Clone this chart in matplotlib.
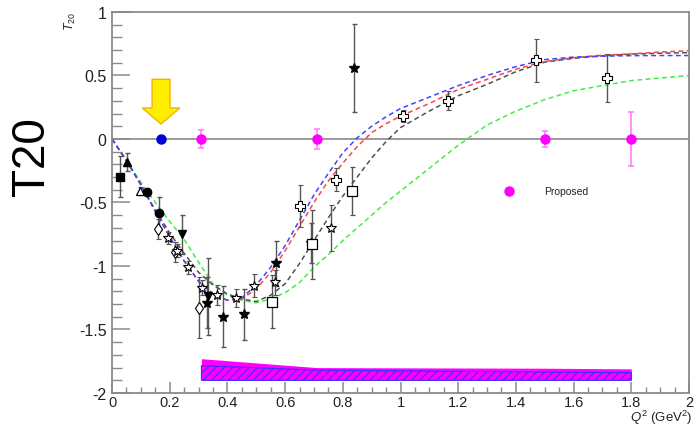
import numpy as np
import matplotlib
matplotlib.use("Agg")
import matplotlib.pyplot as plt
from matplotlib.patches import FancyArrow
from matplotlib.ticker import MultipleLocator, FixedLocator, FixedFormatter

plt.rcParams['font.family'] = ['Liberation Sans', 'DejaVu Sans']
plt.rcParams['axes.unicode_minus'] = False
plt.rcParams['mathtext.fontset'] = 'custom'
plt.rcParams['mathtext.rm'] = 'Liberation Sans'
plt.rcParams['mathtext.it'] = 'Liberation Sans:italic'
plt.rcParams['hatch.linewidth'] = 0.8

# ---- data -------------------------------------------------------------
# theory curves (read at Q2 grid)
q2_grid = [0.0, 0.05, 0.1, 0.15, 0.2, 0.25, 0.3, 0.35, 0.4, 0.45, 0.5, 0.55,
           0.6, 0.65, 0.7, 0.75, 0.8, 0.85, 0.9, 0.95, 1.0, 1.1, 1.2, 1.3,
           1.4, 1.5, 1.6, 1.7, 1.8, 1.9, 2.0]
t20_blue = [0.0, -0.17, -0.36, -0.57, -0.77, -0.96, -1.12, -1.22, -1.27, -1.25,
            -1.15, -1.01, -0.84, -0.64, -0.44, -0.27, -0.11, 0.01, 0.10, 0.175,
            0.24, 0.33, 0.42, 0.50, 0.57, 0.625, 0.645, 0.652, 0.656, 0.657, 0.657]
t20_red = [0.0, -0.17, -0.36, -0.57, -0.77, -0.96, -1.12, -1.22, -1.27, -1.26,
           -1.18, -1.05, -0.88, -0.69, -0.50, -0.33, -0.19, -0.06, 0.05, 0.12,
           0.18, 0.28, 0.39, 0.47, 0.55, 0.61, 0.64, 0.66, 0.67, 0.685, 0.695]
t20_black = [0.0, -0.17, -0.36, -0.56, -0.74, -0.90, -1.05, -1.15, -1.22, -1.26,
             -1.28, -1.23, -1.14, -0.98, -0.80, -0.62, -0.45, -0.30, -0.15, -0.02,
             0.09, 0.22, 0.34, 0.43, 0.53, 0.605, 0.635, 0.655, 0.668, 0.675, 0.68]
t20_green = [0.0, -0.17, -0.34, -0.50, -0.65, -0.79, -0.97, -1.14, -1.23, -1.27,
             -1.29, -1.26, -1.21, -1.13, -1.01, -0.91, -0.80, -0.70, -0.60, -0.50,
             -0.41, -0.23, -0.05, 0.11, 0.22, 0.31, 0.38, 0.42, 0.46, 0.48, 0.50]

# world data, grouped by marker
fsq_x, fsq_y, fsq_e = [0.028], [-0.297], [0.16]
ftri_x, ftri_y, ftri_e = [0.051], [-0.18], [0.07]
otri_x, otri_y, otri_e = [0.097], [-0.41], [0.03]
fcir_x, fcir_y, fcir_e = [0.12, 0.162], [-0.42, -0.585], [0.03, 0.13]
odia_x, odia_y, odia_e = [0.16, 0.217, 0.303], [-0.71, -0.89, -1.33], [0.08, 0.08, 0.24]
fdown_x, fdown_y, fdown_e = [0.243, 0.334], [-0.75, -1.24], [0.155, 0.30]
ostar_x = [0.195, 0.226, 0.264, 0.311, 0.365, 0.429, 0.492, 0.565, 0.758]
ostar_y = [-0.78, -0.88, -1.01, -1.17, -1.23, -1.25, -1.155, -1.13, -0.70]
ostar_e = [0.05, 0.05, 0.05, 0.06, 0.08, 0.07, 0.09, 0.10, 0.18]
fstar_x = [0.328, 0.386, 0.458, 0.567, 0.689, 0.839]
fstar_y = [-1.29, -1.40, -1.38, -0.98, -0.82, 0.557]
fstar_e = [0.20, 0.24, 0.20, 0.18, 0.155, 0.345]
osq_x, osq_y, osq_e = [0.556, 0.694, 0.831], [-1.28, -0.83, -0.41], [0.21, 0.27, 0.19]
ocross_x = [0.652, 0.775, 1.01, 1.166, 1.47, 1.715]
ocross_y = [-0.53, -0.32, 0.18, 0.30, 0.62, 0.48]
ocross_e = [0.165, 0.09, 0.05, 0.075, 0.17, 0.19]

# proposed measurement
prop_x = [0.31, 0.71, 1.5, 1.8]
prop_y = [0.0, 0.0, 0.0, 0.0]
prop_e = [0.07, 0.08, 0.06, 0.21]
blue_x, blue_y = [0.17], [0.0]

# systematic band
band_x = [0.31, 0.71, 1.5, 1.8]
band_top = [-1.73, -1.80, -1.805, -1.81]
hatch_top = [-1.785, -1.82, -1.835, -1.84]
band_base = -1.90

# arrow marking the blue point
arrow_x, arrow_top, arrow_tip = 0.17, 0.47, 0.118

xtick_vals = [0, 0.2, 0.4, 0.6, 0.8, 1, 1.2, 1.4, 1.6, 1.8, 2]
xtick_labels = ["0", "0.2", "0.4", "0.6", "0.8", "1", "1.2", "1.4", "1.6", "1.8", "2"]
ytick_vals = [-2, -1.5, -1, -0.5, 0, 0.5, 1]
ytick_labels = ["-2", "-1.5", "-1", "-0.5", "0", "0.5", "1"]

# ---- figure ----------------------------------------------------------
fig = plt.figure(figsize=(6.94, 4.27), dpi=100)
ax = fig.add_axes([0.1614, 0.0773, 0.8314, 0.8923])
ax.set_xlim(0, 2)
ax.set_ylim(-2, 1)

frame_col = '#8a8a8a'
ax.axhline(0, color=frame_col, lw=1.2, zorder=1)

dash = (0, (3.2, 2.2))
ax.plot(q2_grid, t20_green, color='#44ee44', ls=dash, lw=1.1, zorder=2)
ax.plot(q2_grid, t20_black, color='#505050', ls=dash, lw=1.1, zorder=2)
ax.plot(q2_grid, t20_red, color='#ff4444', ls=dash, lw=1.1, zorder=2)
ax.plot(q2_grid, t20_blue, color='#4444ff', ls=dash, lw=1.1, zorder=2)

# band
ax.fill_between(band_x, band_base, band_top, color='#ff00ff', lw=0, zorder=2)
ax.fill_between(band_x, band_base, hatch_top, facecolor='none', edgecolor='#3a2cff',
                hatch='////', lw=0.8, zorder=3)

ekw = dict(ls='none', ecolor='#555555', elinewidth=1.0, capsize=1.8, capthick=1.0,
           zorder=4)
ax.errorbar(fsq_x, fsq_y, yerr=fsq_e, marker='s', ms=6, mfc='black', mec='black', **ekw)
ax.errorbar(ftri_x, ftri_y, yerr=ftri_e, marker='^', ms=6, mfc='black', mec='black', **ekw)
ax.errorbar(otri_x, otri_y, yerr=otri_e, marker='^', ms=6, mfc='white', mec='black', mew=0.9, **ekw)
ax.errorbar(fcir_x, fcir_y, yerr=fcir_e, marker='o', ms=6, mfc='black', mec='black', **ekw)
ax.errorbar(odia_x, odia_y, yerr=odia_e, marker='d', ms=6, mfc='white', mec='black', mew=0.8, **ekw)
ax.errorbar(fdown_x, fdown_y, yerr=fdown_e, marker='v', ms=6, mfc='black', mec='black', **ekw)
ax.errorbar(ostar_x, ostar_y, yerr=ostar_e, marker='*', ms=7.5, mfc='white', mec='black', mew=0.8, **ekw)
ax.errorbar(fstar_x, fstar_y, yerr=fstar_e, marker='*', ms=7, mfc='black', mec='black', **ekw)
ax.errorbar(osq_x, osq_y, yerr=osq_e, marker='s', ms=7, mfc='white', mec='black', mew=0.9, **ekw)
ax.errorbar(ocross_x, ocross_y, yerr=ocross_e, marker='P', ms=7, mfc='white', mec='black', mew=0.8, **ekw)

ax.errorbar(prop_x, prop_y, yerr=prop_e, ls='none', marker='o', ms=6.5, mfc='#ff00ff',
            mec='#ff00ff', ecolor='#ff77ff', elinewidth=1.1, capsize=2, capthick=1.1, zorder=5)
ax.plot(blue_x, blue_y, 'o', ms=6.5, color='#0000dd', zorder=5)

ax.add_patch(FancyArrow(arrow_x, arrow_top, 0, arrow_tip - arrow_top, width=0.062,
                        head_width=0.13, head_length=0.126, length_includes_head=True,
                        facecolor='#ffee00', edgecolor='#f0b400', lw=1.0, zorder=6))

# legend entry
ax.plot([1.376], [-0.41], 'o', ms=6.5, color='#ff00ff', zorder=5)
ax.text(1.497, -0.41, "Proposed", fontsize=7.5, va='center', ha='left', color='#222222')

# axes styling
for s in ax.spines.values():
    s.set_color(frame_col)
    s.set_linewidth(1.3)
ax.xaxis.set_major_locator(FixedLocator(xtick_vals))
ax.xaxis.set_major_formatter(FixedFormatter(xtick_labels))
ax.xaxis.set_minor_locator(MultipleLocator(0.05))
ax.yaxis.set_major_locator(FixedLocator(ytick_vals))
ax.yaxis.set_major_formatter(FixedFormatter(ytick_labels))
ax.yaxis.set_minor_locator(MultipleLocator(0.1))
ax.tick_params(axis='both', which='both', direction='in', color=frame_col,
               labelsize=11.5, labelcolor='#222222')
ax.tick_params(axis='x', which='major', length=8, width=1.1, pad=1.2, labelsize=10.5)
ax.tick_params(axis='x', which='minor', length=4.3, width=1.0)
ax.tick_params(axis='y', which='major', length=13, width=1.1, pad=4)
ax.tick_params(axis='y', which='minor', length=7, width=1.0)

# titles
fig.text(70 / 694, 1 - 12 / 427, r'$T_{20}$', rotation=90, ha='center', va='top',
         fontsize=9, color='#222222')
fig.text(32 / 694, 1 - 157 / 427, 'T20', rotation=90, ha='center', va='center',
         fontsize=33, color='black')
fig.text(692 / 694, 0.2 / 427, r'$Q^{2}$ (GeV$^{2}$)', ha='right', va='bottom',
         fontsize=9.5, color='#222222')

fig.savefig('out.png', dpi=100)
